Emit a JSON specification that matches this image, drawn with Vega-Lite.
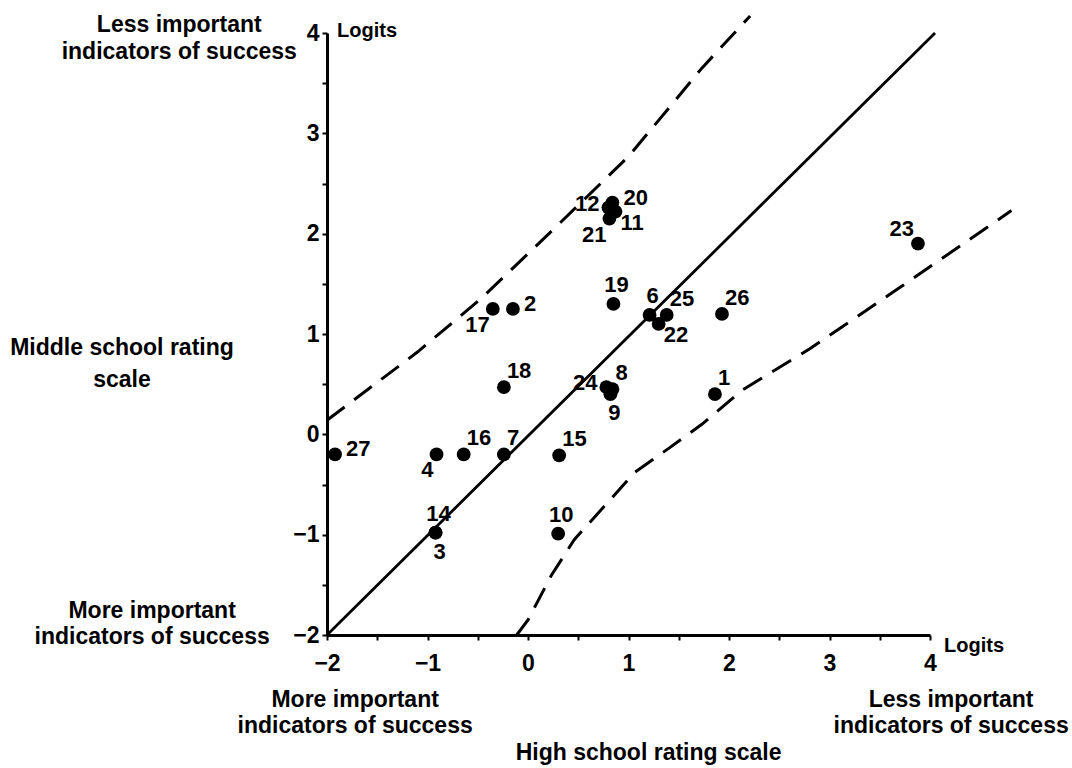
{
  "$schema": "https://vega.github.io/schema/vega-lite/v6.json",
  "width": 603,
  "height": 602,
  "autosize": "none",
  "padding": {"left": 327, "top": 33, "right": 142, "bottom": 133},
  "background": "white",
  "config": {"view": {"stroke": null}, "font": "Liberation Sans"},
  "datasets": {
    "pts": [
      {"id": "1", "hs": 1.86, "ms": 0.40, "pos": "ar"},
      {"id": "2", "hs": -0.15, "ms": 1.25, "pos": "r"},
      {"id": "3", "hs": -0.92, "ms": -0.98, "pos": "b"},
      {"id": "4", "hs": -0.91, "ms": -0.20, "pos": "bl"},
      {"id": "6", "hs": 1.21, "ms": 1.19, "pos": "a"},
      {"id": "7", "hs": -0.24, "ms": -0.20, "pos": "ar"},
      {"id": "8", "hs": 0.84, "ms": 0.45, "pos": "ar"},
      {"id": "9", "hs": 0.82, "ms": 0.40, "pos": "b"},
      {"id": "10", "hs": 0.30, "ms": -0.99, "pos": "a"},
      {"id": "11", "hs": 0.87, "ms": 2.22, "pos": "br"},
      {"id": "12", "hs": 0.80, "ms": 2.26, "pos": "l"},
      {"id": "14", "hs": -0.92, "ms": -0.98, "pos": "a"},
      {"id": "15", "hs": 0.31, "ms": -0.21, "pos": "ar"},
      {"id": "16", "hs": -0.64, "ms": -0.20, "pos": "ar"},
      {"id": "17", "hs": -0.35, "ms": 1.25, "pos": "bl"},
      {"id": "18", "hs": -0.24, "ms": 0.47, "pos": "ar"},
      {"id": "19", "hs": 0.85, "ms": 1.30, "pos": "a"},
      {"id": "20", "hs": 0.84, "ms": 2.31, "pos": "r"},
      {"id": "21", "hs": 0.81, "ms": 2.15, "pos": "bl"},
      {"id": "22", "hs": 1.30, "ms": 1.10, "pos": "br"},
      {"id": "23", "hs": 3.88, "ms": 1.90, "pos": "al"},
      {"id": "24", "hs": 0.78, "ms": 0.47, "pos": "l"},
      {"id": "25", "hs": 1.38, "ms": 1.19, "pos": "ar"},
      {"id": "26", "hs": 1.93, "ms": 1.20, "pos": "ar"},
      {"id": "27", "hs": -1.92, "ms": -0.20, "pos": "r"}
    ],
    "solid": [
      {"hs": -2, "ms": -2},
      {"hs": 4.05, "ms": 4.0}
    ],
    "upper": [
      {"hs": -2.0, "ms": 0.14},
      {"hs": -1.10, "ms": 0.82},
      {"hs": -0.47, "ms": 1.35},
      {"hs": 0.26, "ms": 2.05},
      {"hs": 1.0, "ms": 2.77},
      {"hs": 1.40, "ms": 3.25},
      {"hs": 1.73, "ms": 3.65},
      {"hs": 2.21, "ms": 4.17}
    ],
    "lower": [
      {"hs": -0.12, "ms": -2.01},
      {"hs": 0.0, "ms": -1.85},
      {"hs": 0.23, "ms": -1.41},
      {"hs": 0.46, "ms": -1.05},
      {"hs": 0.73, "ms": -0.75},
      {"hs": 1.06, "ms": -0.38},
      {"hs": 1.40, "ms": -0.14},
      {"hs": 1.73, "ms": 0.10},
      {"hs": 2.13, "ms": 0.44},
      {"hs": 2.80, "ms": 0.85},
      {"hs": 3.71, "ms": 1.47},
      {"hs": 4.81, "ms": 2.23}
    ],
    "notes": [
      {"t": "Less important", "hs": -3.47, "ms": 4.08, "k": "c"},
      {"t": "indicators of success", "hs": -3.47, "ms": 3.81, "k": "c"},
      {"t": "Middle school rating", "hs": -4.04, "ms": 0.86, "k": "c"},
      {"t": "scale", "hs": -4.04, "ms": 0.54, "k": "c"},
      {"t": "More important", "hs": -3.74, "ms": -1.76, "k": "c"},
      {"t": "indicators of success", "hs": -3.74, "ms": -2.02, "k": "c"},
      {"t": "More important", "hs": -1.72, "ms": -2.65, "k": "c"},
      {"t": "indicators of success", "hs": -1.72, "ms": -2.91, "k": "c"},
      {"t": "Less important", "hs": 4.21, "ms": -2.65, "k": "c"},
      {"t": "indicators of success", "hs": 4.21, "ms": -2.91, "k": "c"},
      {"t": "High school rating scale", "hs": 1.2, "ms": -3.18, "k": "c"},
      {"t": "Logits", "hs": -1.9, "ms": 4.02, "k": "l"},
      {"t": "Logits", "hs": 4.14, "ms": -2.11, "k": "l"}
    ]
  },
  "encoding": {
    "x": {
      "field": "hs", "type": "quantitative",
      "scale": {"domain": [-2, 4], "nice": false, "zero": false},
      "axis": {
        "title": null, "grid": false,
        "values": [-2, -1.5, -1, -0.5, 0, 0.5, 1, 1.5, 2, 2.5, 3, 3.5, 4],
        "labelExpr": "datum.value % 1 == 0 ? format(datum.value, 'd') : ''",
        "domainColor": "black", "domainWidth": 3,
        "tickColor": "black", "tickWidth": 2, "tickSize": 5,
        "labelFont": "Liberation Sans", "labelFontWeight": "bold", "labelFontSize": 23,
        "labelColor": "black", "labelPadding": 12, "labelFlush": false, "labelOverlap": false
      }
    },
    "y": {
      "field": "ms", "type": "quantitative",
      "scale": {"domain": [-2, 4], "nice": false, "zero": false},
      "axis": {
        "title": null, "grid": false,
        "values": [-2, -1.5, -1, -0.5, 0, 0.5, 1, 1.5, 2, 2.5, 3, 3.5, 4],
        "labelExpr": "datum.value % 1 == 0 ? format(datum.value, 'd') : ''",
        "domainColor": "black", "domainWidth": 3,
        "tickColor": "black", "tickWidth": 2, "tickSize": 5,
        "labelFont": "Liberation Sans", "labelFontWeight": "bold", "labelFontSize": 23,
        "labelColor": "black", "labelPadding": 3, "labelFlush": false, "labelOverlap": false
      }
    }
  },
  "layer": [
    {"data": {"name": "solid"}, "mark": {"type": "line", "color": "black", "strokeWidth": 2.8, "clip": false}},
    {"data": {"name": "upper"}, "mark": {"type": "line", "color": "black", "strokeWidth": 3, "strokeDash": [22, 12], "clip": false}},
    {"data": {"name": "lower"}, "mark": {"type": "line", "color": "black", "strokeWidth": 3, "strokeDash": [22, 12], "clip": false}},
    {"data": {"name": "pts"}, "mark": {"type": "circle", "color": "black", "opacity": 1, "size": 190}},
    {"data": {"name": "pts"}, "transform": [{"filter": "datum.pos == 'r'"}],
     "mark": {"type": "text", "align": "left", "baseline": "middle", "dx": 11, "dy": -5, "fontSize": 22, "fontWeight": "bold", "color": "black"},
     "encoding": {"text": {"field": "id"}}},
    {"data": {"name": "pts"}, "transform": [{"filter": "datum.pos == 'l'"}],
     "mark": {"type": "text", "align": "right", "baseline": "middle", "dx": -9, "dy": -4, "fontSize": 22, "fontWeight": "bold", "color": "black"},
     "encoding": {"text": {"field": "id"}}},
    {"data": {"name": "pts"}, "transform": [{"filter": "datum.pos == 'a'"}],
     "mark": {"type": "text", "align": "center", "baseline": "middle", "dx": 3, "dy": -19, "fontSize": 22, "fontWeight": "bold", "color": "black"},
     "encoding": {"text": {"field": "id"}}},
    {"data": {"name": "pts"}, "transform": [{"filter": "datum.pos == 'b'"}],
     "mark": {"type": "text", "align": "center", "baseline": "middle", "dx": 4, "dy": 19, "fontSize": 22, "fontWeight": "bold", "color": "black"},
     "encoding": {"text": {"field": "id"}}},
    {"data": {"name": "pts"}, "transform": [{"filter": "datum.pos == 'ar'"}],
     "mark": {"type": "text", "align": "left", "baseline": "middle", "dx": 3, "dy": -16, "fontSize": 22, "fontWeight": "bold", "color": "black"},
     "encoding": {"text": {"field": "id"}}},
    {"data": {"name": "pts"}, "transform": [{"filter": "datum.pos == 'al'"}],
     "mark": {"type": "text", "align": "right", "baseline": "middle", "dx": -4, "dy": -15, "fontSize": 22, "fontWeight": "bold", "color": "black"},
     "encoding": {"text": {"field": "id"}}},
    {"data": {"name": "pts"}, "transform": [{"filter": "datum.pos == 'bl'"}],
     "mark": {"type": "text", "align": "right", "baseline": "middle", "dx": -3, "dy": 16, "fontSize": 22, "fontWeight": "bold", "color": "black"},
     "encoding": {"text": {"field": "id"}}},
    {"data": {"name": "pts"}, "transform": [{"filter": "datum.pos == 'br'"}],
     "mark": {"type": "text", "align": "left", "baseline": "middle", "dx": 5, "dy": 11, "fontSize": 22, "fontWeight": "bold", "color": "black"},
     "encoding": {"text": {"field": "id"}}},
    {"data": {"name": "notes"}, "transform": [{"filter": "datum.k == 'c'"}],
     "mark": {"type": "text", "align": "center", "baseline": "middle", "fontSize": 23, "fontWeight": "bold", "color": "black", "clip": false},
     "encoding": {"text": {"field": "t"}}},
    {"data": {"name": "notes"}, "transform": [{"filter": "datum.k == 'l'"}],
     "mark": {"type": "text", "align": "left", "baseline": "middle", "fontSize": 20, "fontWeight": "bold", "color": "black", "clip": false},
     "encoding": {"text": {"field": "t"}}}
  ]
}
